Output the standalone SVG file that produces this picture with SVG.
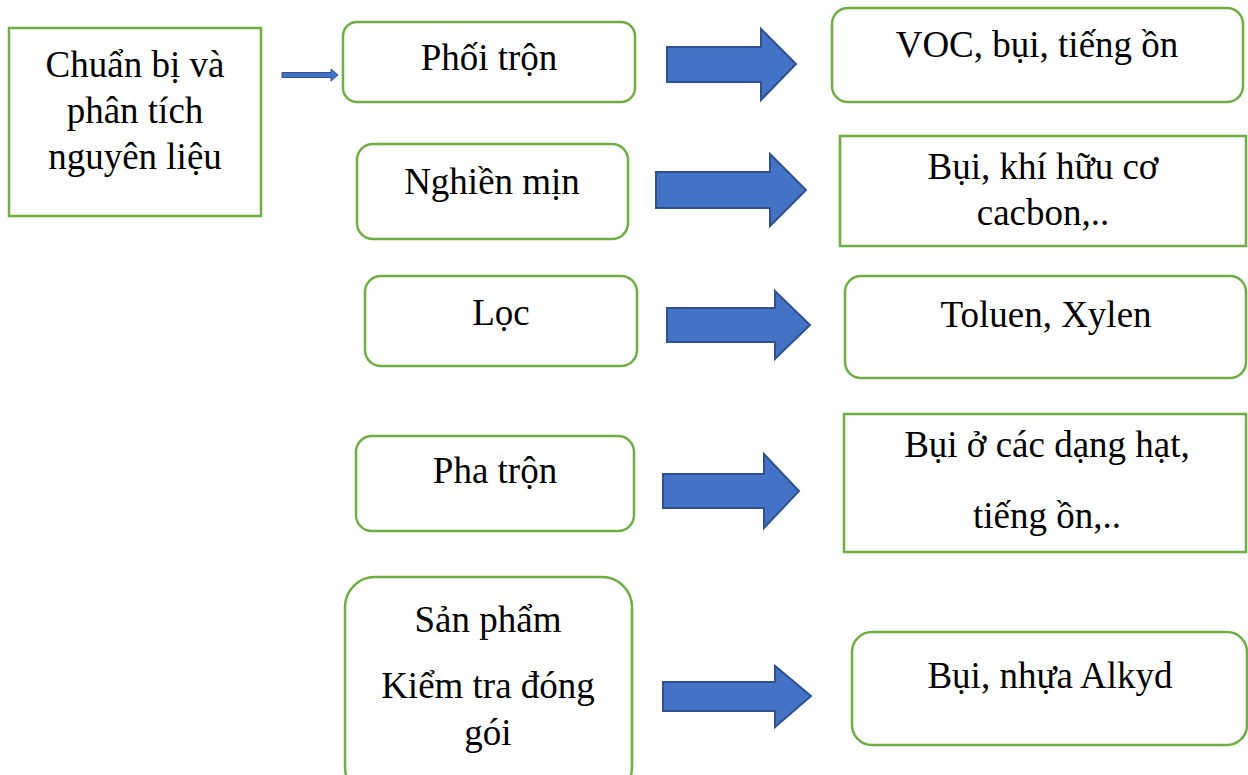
<svg xmlns="http://www.w3.org/2000/svg" width="1248" height="775" viewBox="0 0 1248 775">
  <defs>
    <style>
      .box { fill: #ffffff; stroke: #70AD47; stroke-width: 2.5; }
      .arrow { fill: #4472C4; stroke: #2F528F; stroke-width: 2; stroke-linejoin: miter; }
      .thin { fill: #4472C4; stroke: #2F528F; stroke-width: 1; }
      text { font-family: "Liberation Serif", "Times New Roman", serif; font-size: 37px; fill: #000000; text-anchor: middle; }
    </style>
  </defs>
  <rect width="1248" height="775" fill="#ffffff"/>

  <!-- block arrows -->
  <g id="connectors">
    <path class="thin" d="M282,72.5 L331,72.5 L331,69 L338,75 L331,81 L331,77.5 L282,77.5 Z"/>
    <path class="arrow" d="M667,47 L761,47 L761,29 L796,64 L761,100 L761,82 L667,82 Z"/>
    <path class="arrow" d="M656,172 L770,172 L770,154 L806,190 L770,226 L770,208 L656,208 Z"/>
    <path class="arrow" d="M667,308 L775,308 L775,291 L810,325 L775,359 L775,342 L667,342 Z"/>
    <path class="arrow" d="M663,474 L764,474 L764,454 L799,491 L764,528 L764,508 L663,508 Z"/>
    <path class="arrow" d="M663,682 L775,682 L775,666 L811,696 L775,727 L775,711 L663,711 Z"/>
  </g>

  <g id="node-chuan-bi">
    <rect class="box" x="9" y="28" width="252" height="188"/>
    <text x="135" y="77">Chuẩn bị và</text>
    <text x="135" y="123">phân tích</text>
    <text x="135" y="169">nguyên liệu</text>
  </g>

  <g id="node-phoi-tron">
    <rect class="box" x="343" y="22" width="292" height="80" rx="14"/>
    <text x="489" y="70">Phối trộn</text>
  </g>

  <g id="node-voc">
    <rect class="box" x="832" y="8" width="411" height="94" rx="16"/>
    <text x="1037" y="57">VOC, bụi, tiếng ồn</text>
  </g>

  <g id="node-nghien-min">
    <rect class="box" x="357" y="144" width="271" height="95" rx="16"/>
    <text x="492" y="194">Nghiền mịn</text>
  </g>

  <g id="node-bui-khi">
    <rect class="box" x="840" y="136" width="406" height="110"/>
    <text x="1043" y="179">Bụi, khí hữu cơ</text>
    <text x="1043" y="225">cacbon,..</text>
  </g>

  <g id="node-loc">
    <rect class="box" x="365" y="276" width="272" height="90" rx="16"/>
    <text x="501" y="325">Lọc</text>
  </g>

  <g id="node-toluen">
    <rect class="box" x="845" y="276" width="401" height="102" rx="16"/>
    <text x="1046" y="327">Toluen, Xylen</text>
  </g>

  <g id="node-pha-tron">
    <rect class="box" x="356" y="436" width="278" height="95" rx="16"/>
    <text x="495" y="483">Pha trộn</text>
  </g>

  <g id="node-bui-hat">
    <rect class="box" x="844" y="414" width="402" height="138"/>
    <text x="1047" y="457">Bụi ở các dạng hạt,</text>
    <text x="1047" y="528">tiếng ồn,..</text>
  </g>

  <g id="node-san-pham">
    <rect class="box" x="345" y="577" width="287" height="220" rx="30"/>
    <text x="488" y="632">Sản phẩm</text>
    <text x="488" y="698">Kiểm tra đóng</text>
    <text x="488" y="745">gói</text>
  </g>

  <g id="node-alkyd">
    <rect class="box" x="852" y="632" width="395" height="113" rx="20"/>
    <text x="1050" y="688">Bụi, nhựa Alkyd</text>
  </g>
</svg>
